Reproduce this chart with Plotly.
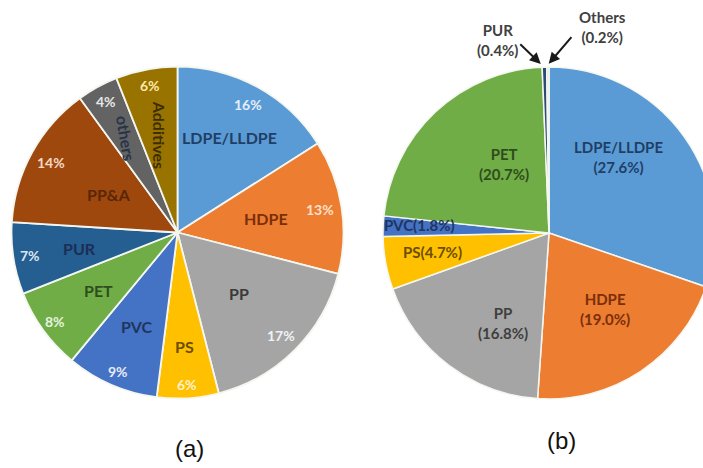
import math
import plotly.graph_objects as go

# ---- data -------------------------------------------------------------
a_labels = ["LDPE/LLDPE", "HDPE", "PP", "PS", "PVC", "PET", "PUR", "PP&A", "others", "Additives"]
a_values = [16, 13, 17, 6, 9, 8, 7, 14, 4, 6]

b_labels = ["LDPE/LLDPE", "HDPE", "PP", "PS", "PVC", "PET", "PUR", "Others"]
b_values = [27.6, 19.0, 16.8, 4.7, 1.8, 20.7, 0.4, 0.2]

captions = ["(a)", "(b)"]

# ---- style --------------------------------------------------------------
W, H = 716, 468
FONT = "Lato"

a_colors = ["#5B9BD5", "#ED7D31", "#A5A5A5", "#FFC000", "#4472C4",
            "#70AD47", "#255E91", "#9E480E", "#636363", "#997300"]
a_name_colors = ["#1F3F66", "#7A2E0A", "#3A3A3A", "#6B4E00", "#1F3560",
                 "#2F4D1C", "#1B2E55", "#5A2608", "#27344A", "#3D2E00"]
a_pct_colors = ["#E4EEF8", "#FBE0CC", "#F2F2F2", "#FFF2CC", "#E6ECF7",
                "#E8F2E0", "#DCE6F0", "#F6D9C6", "#E6E6E6", "#FFE9A8"]
a_name_frac = [0.65, 0.54, 0.52, 0.69, 0.62, 0.59, 0.60, 0.47, 0.65, 0.60]
a_name_rot = [0, 0, 0, 0, 0, 0, 0, 0, 80, 90]
a_pct_frac = [0.88, 0.87, 0.88, 0.92, 0.91, 0.91, 0.90, 0.87, 0.90, 0.90]

b_colors = ["#5B9BD5", "#ED7D31", "#A5A5A5", "#FFC000", "#4472C4",
            "#70AD47", "#2F4A73", "#D6E6F5"]
b_text_colors = ["#1F3F66", "#7A2E0A", "#3F3F3F", "#6B4E00", "#1F3560",
                 "#2F4D1C", "#404040", "#404040"]
b_text_frac = [0.62, 0.57, 0.61, 0.71, 0.78, 0.50]
b_text_dang = [-12, -3, -10, 1, 1, 10]

# pie centres / radius in pixels
A_CX, A_CY, R = 177.5, 232.5, 166
B_CX, B_CY = 549, 233


def domain(cx, cy, r):
    return dict(x=[(cx - r) / W, (cx + r) / W], y=[1 - (cy + r) / H, 1 - (cy - r) / H])


def mid_angles(values):
    tot = sum(values)
    out, acc = [], 0.0
    for v in values:
        out.append((acc + v / 2) / tot * 360)
        acc += v
    return out


def to_paper(cx, cy, r, ang, frac):
    a = math.radians(ang)
    return (cx + frac * r * math.sin(a)) / W, 1 - (cy - frac * r * math.cos(a)) / H


fig = go.Figure()
fig.add_trace(go.Pie(labels=a_labels, values=a_values, sort=False, direction="clockwise",
                     rotation=0, textinfo="none", hoverinfo="label+percent",
                     marker=dict(colors=a_colors, line=dict(color="#F4F7F0", width=1.8)),
                     domain=domain(A_CX, A_CY, R), showlegend=False))
fig.add_trace(go.Pie(labels=b_labels, values=b_values, sort=False, direction="clockwise",
                     rotation=0, textinfo="none", hoverinfo="label+value",
                     marker=dict(colors=b_colors, line=dict(color="#F4F7F0", width=1.5)),
                     domain=domain(B_CX, B_CY, R), showlegend=False))

ann = []
# (a) names and shares
for lab, v, ang, nf, rot, nc, pf, pc in zip(a_labels, a_values, mid_angles(a_values),
                                            a_name_frac, a_name_rot, a_name_colors,
                                            a_pct_frac, a_pct_colors):
    x, y = to_paper(A_CX, A_CY, R, ang, nf)
    ann.append(dict(x=x, y=y, text=lab, textangle=rot, showarrow=False,
                    font=dict(family=FONT, size=16, color=nc, weight="bold")))
    x, y = to_paper(A_CX, A_CY, R, ang, pf)
    ann.append(dict(x=x, y=y, text=f"{v}%", showarrow=False,
                    font=dict(family=FONT, size=14, color=pc, weight="bold")))

# (b) labels inside the larger slices
b_mid = mid_angles(b_values)
for i in range(6):
    lab, v = b_labels[i], b_values[i]
    x, y = to_paper(B_CX, B_CY, R, b_mid[i] + b_text_dang[i], b_text_frac[i])
    sep = "<br>" if v > 10 else ""
    ann.append(dict(x=x, y=y, text=f"{lab}{sep}({v:.1f}%)", showarrow=False,
                    font=dict(family=FONT, size=15, color=b_text_colors[i], weight="bold")))

# (b) tiny slices: callouts with arrows
for i, (tx, ty, dx, dy) in zip([6, 7], [(498, 40, -22, -21), (602, 27, 24, -28)]):
    lab, v = b_labels[i], b_values[i]
    ann.append(dict(x=tx / W, y=1 - ty / H, text=f"{lab}<br>({v:.1f}%)", showarrow=False,
                    font=dict(family=FONT, size=15, color=b_text_colors[i], weight="bold")))
    x, y = to_paper(B_CX, B_CY, R, b_mid[i] + (-1.2 if i == 6 else 0.3), 1.02)
    ann.append(dict(x=x, y=y, text="", showarrow=True, ax=dx, ay=dy,
                    arrowhead=2, arrowsize=1.1, arrowwidth=2, arrowcolor="#1A1A1A"))

# captions
for cap, (cx, cy) in zip(captions, [(189, 448), (561, 440)]):
    ann.append(dict(x=cx / W, y=1 - cy / H, text=cap, showarrow=False,
                    font=dict(family="Liberation Sans", size=24, color="#111111")))

for a in ann:
    a.setdefault("xref", "paper")
    a.setdefault("yref", "paper")
    a.setdefault("xanchor", "center")
    a.setdefault("yanchor", "middle")

fig.update_layout(width=W, height=H, margin=dict(l=0, r=0, t=0, b=0),
                  paper_bgcolor="white", plot_bgcolor="white",
                  annotations=ann, showlegend=False)

fig.write_html("out.html", post_script=(
    "document.documentElement.style.overflow='hidden';"
    "document.body.style.overflow='hidden';document.body.style.margin='0';"))
